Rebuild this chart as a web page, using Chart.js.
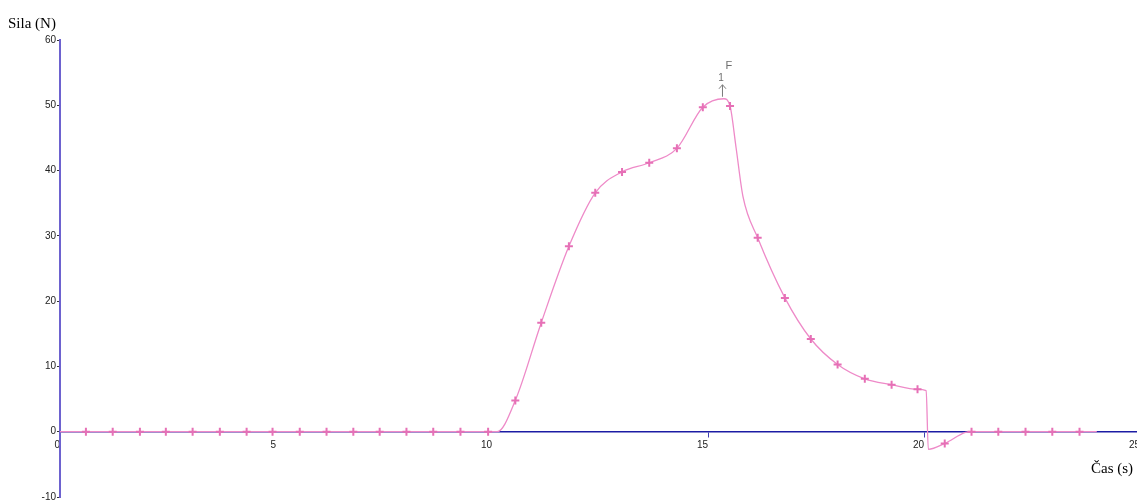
<!DOCTYPE html>
<html lang="sk">
<head>
  <meta charset="UTF-8" />
  <title>Sila (N) - Čas (s)</title>
  <script src="https://cdn.jsdelivr.net/npm/chart.js"></script>
  <style>
    html, body {
      margin: 0;
      padding: 0;
      background: #ffffff;
      overflow: hidden;
    }
    #wrap {
      width: 1137px;
      height: 504px;
      overflow: hidden;
    }
    canvas {
      display: block;
    }
  </style>
</head>
<body>

<div id="wrap">
  <canvas id="forceChart" width="1143" height="504"></canvas>
</div>

<script>
  // time samples (s), force readings (N), and which samples carry a "+" marker
  const times  = [0, 0.60, 1.22, 1.85, 2.45, 3.07, 3.70, 4.32, 4.92, 5.55, 6.17, 6.79, 7.40, 8.02, 8.64, 9.27, 9.91,
                  10.12, 10.54, 11.14, 11.78, 12.39, 13.01, 13.64, 14.28, 14.88, 15.37, 15.51, 15.65, 15.81,
                  16.15, 16.78, 17.38, 18.00, 18.63, 19.25, 19.85, 20.05, 20.10, 20.48, 20.96,
                  21.10, 21.72, 22.35, 22.97, 23.60, 24.00];
  const forces = [0, 0, 0, 0, 0, 0, 0, 0, 0, 0, 0, 0, 0, 0, 0, 0, 0,
                  0, 4.8, 16.7, 28.4, 36.6, 39.8, 41.2, 43.4, 49.7, 51.0, 49.9, 43.5, 36.0,
                  29.7, 20.5, 14.2, 10.3, 8.1, 7.2, 6.5, 6.3, -2.7, -1.8, -0.1,
                  0, 0, 0, 0, 0, 0];
  const marked = [0, 1, 1, 1, 1, 1, 1, 1, 1, 1, 1, 1, 1, 1, 1, 1, 1,
                  0, 1, 1, 1, 1, 1, 1, 1, 1, 0, 1, 0, 0,
                  1, 1, 1, 1, 1, 1, 1, 0, 0, 1, 0,
                  1, 1, 1, 1, 1, 0];

  const xTicks = [0, 5, 10, 15, 20, 25];
  const yTicks = [-10, 0, 10, 20, 30, 40, 50, 60];

  const xTitle = 'Čas (s)';
  const yTitle = 'Sila (N)';
  const peakLabel = 'F';
  const peakIndexLabel = '1';

  const lineColor = '#ee8ac8';
  const markColor = '#e670b6';

  // axis titles + the peak annotation
  const labelsPlugin = {
    id: 'labels',
    afterDatasetsDraw(chart) {
      const ctx = chart.ctx;
      const xs = chart.scales.x;
      const ys = chart.scales.y;
      ctx.save();

      ctx.fillStyle = '#000';
      ctx.font = '15px "Liberation Serif", "Times New Roman", serif';
      ctx.textBaseline = 'alphabetic';
      ctx.textAlign = 'left';
      ctx.fillText(yTitle, 8, 28);
      ctx.fillText(xTitle, 1091, 473);

      // arrow pointing at the maximum
      let pi = 0;
      forces.forEach((v, i) => { if (v > forces[pi]) pi = i; });
      const px = xs.getPixelForValue(times[pi]) - 2;
      const py = ys.getPixelForValue(forces[pi]);
      ctx.strokeStyle = '#7a7a7a';
      ctx.lineWidth = 1;
      ctx.beginPath();
      ctx.moveTo(px + 0.5, py - 2);
      ctx.lineTo(px + 0.5, py - 14);
      ctx.moveTo(px - 3, py - 10);
      ctx.lineTo(px + 0.5, py - 14);
      ctx.lineTo(px + 4, py - 10);
      ctx.stroke();

      ctx.fillStyle = '#6e6e6e';
      ctx.textAlign = 'center';
      ctx.textBaseline = 'middle';
      ctx.font = '10px "Liberation Sans", Arial, sans-serif';
      ctx.fillText(peakIndexLabel, px - 1, py - 21);
      ctx.font = '11px "Liberation Sans", Arial, sans-serif';
      ctx.fillText(peakLabel, px + 7, py - 33);

      ctx.restore();
    }
  };

  const ctx = document.getElementById('forceChart').getContext('2d');

  new Chart(ctx, {
    type: 'line',
    data: {
      datasets: [{
        data: times.map((t, i) => ({ x: t, y: forces[i] })),
        borderColor: lineColor,
        borderWidth: 1.3,
        cubicInterpolationMode: 'monotone',
        fill: false,
        pointStyle: 'cross',
        pointRadius: marked.map(m => m ? 4 : 0),
        pointBorderWidth: 2,
        pointBorderColor: markColor,
        pointBackgroundColor: markColor
      }]
    },
    options: {
      responsive: false,
      animation: false,
      devicePixelRatio: 1,
      layout: {
        padding: { top: 40, bottom: 5, left: 0, right: 0 }
      },
      plugins: {
        legend: { display: false },
        tooltip: { enabled: false }
      },
      scales: {
        x: {
          type: 'linear',
          min: xTicks[0],
          max: xTicks[xTicks.length - 1],
          position: { y: 0 },
          afterFit: s => { s.height = 0; },
          afterBuildTicks: s => { s.ticks = xTicks.map(v => ({ value: v })); },
          ticks: {
            align: 'end',
            padding: 3,
            color: '#222',
            font: { family: '"Liberation Sans", Arial, sans-serif', size: 10 }
          },
          grid: {
            drawOnChartArea: false,
            drawTicks: true,
            tickLength: 5,
            color: c => (c.tick && c.tick.value >= 15) ? '#4040b0' : 'rgba(0,0,0,0)'
          },
          border: { color: '#1c1ca4', width: 1.5 }
        },
        y: {
          min: yTicks[0],
          max: yTicks[yTicks.length - 1],
          afterFit: s => { s.width = 60; },
          afterBuildTicks: s => { s.ticks = yTicks.map(v => ({ value: v })); },
          ticks: {
            padding: 1,
            color: '#222',
            font: { family: '"Liberation Sans", Arial, sans-serif', size: 10 }
          },
          grid: {
            drawOnChartArea: false,
            drawTicks: true,
            tickLength: 3,
            color: '#333'
          },
          border: { color: '#6d62cf', width: 2 }
        }
      }
    },
    plugins: [labelsPlugin]
  });
</script>

</body>
</html>
